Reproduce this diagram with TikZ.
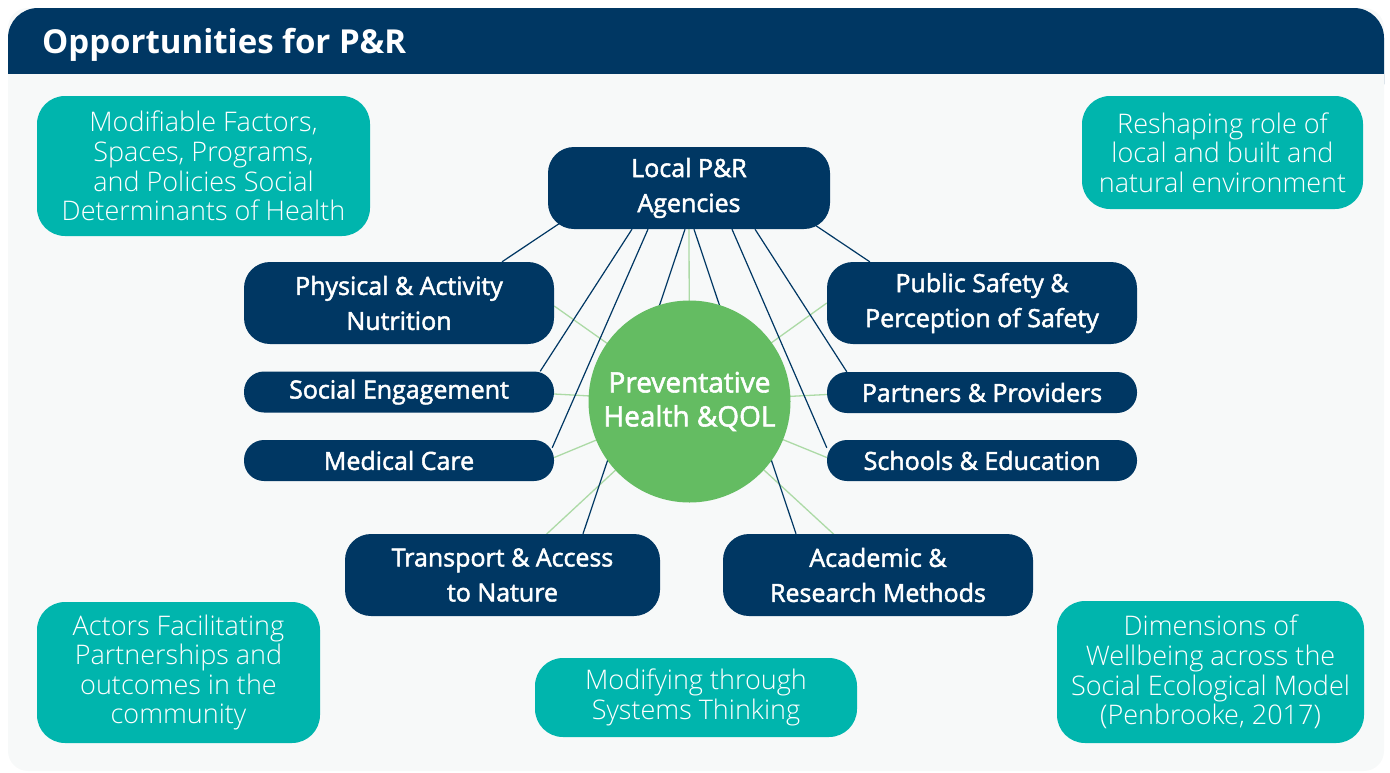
\documentclass[tikz,border=0pt]{standalone}
\usepackage{fontspec}
\setmainfont{Open Sans}
\newfontfamily\lightfont{Open Sans Light}
\newfontfamily\semifont{Open Sans}[RawFeature={embolden=2}]
\usetikzlibrary{calc}
\definecolor{navy}{RGB}{0,55,99}
\definecolor{tealbox}{RGB}{0,181,173}
\definecolor{leaf}{RGB}{100,188,98}
\definecolor{paleleaf}{RGB}{172,218,166}
\definecolor{panelgray}{RGB}{247,249,249}
\pgfdeclarelayer{panel}
\pgfdeclarelayer{links}
\pgfsetlayers{panel,links,main}
\begin{document}
\begin{tikzpicture}[x=1pt,y=-1pt,
  factor/.style={fill=navy, text=white, align=center, inner sep=0pt,
    font=\semifont\fontsize{25}{35}\selectfont},
  tall/.style={factor, rounded corners=26pt, minimum height=82pt},
  slim/.style={factor, rounded corners=20pt, minimum height=41pt},
  theme/.style={fill=tealbox, text=white, align=center, inner sep=0pt,
    rounded corners=28pt, font=\lightfont\fontsize{27}{29.6}\selectfont},
  tie/.style={navy, line width=1.2pt},
  ray/.style={paleleaf, line width=1.3pt}]

\useasboundingbox (0,0) rectangle (1390,772);

% panel and header band
\begin{pgfonlayer}{panel}
  \fill[panelgray, rounded corners=20pt] (8,8) rectangle (1384,771);
  \fill[navy, rounded corners=30pt] (8,8) rectangle (1384,114);
  \fill[panelgray] (8,74) rectangle (1384,120);
\end{pgfonlayer}
\node[anchor=west, text=white, inner sep=0pt, font=\bfseries\fontsize{33}{38}\selectfont] (title) at (42,44.5) {Opportunities for P\&R};

% central hub and factor boxes
\node[circle, fill=leaf, minimum size=202pt, inner sep=0pt, text=white, align=center,
  font=\semifont\fontsize{28}{34}\selectfont] (hub) at (689.5,401.5) {Preventative\\Health \&QOL};

\node[tall, minimum width=282pt] (local) at (689,188) {Local P\&R\\Agencies};
\node[tall, minimum width=310pt] (phys) at (399,303) {Physical \& Activity\\Nutrition};
\node[slim, minimum width=310pt] (social) at (399,392) {Social Engagement};
\node[slim, minimum width=310pt] (medical) at (399,460.5) {Medical Care};
\node[tall, minimum width=310pt] (safety) at (982,303) {Public Safety \&\\Perception of Safety};
\node[slim, minimum width=310pt] (partners) at (982,392.5) {Partners \& Providers};
\node[slim, minimum width=310pt] (schools) at (982,460.5) {Schools \& Education};
\node[tall, minimum width=315pt] (transport) at (502.5,575) {Transport \& Access\\to Nature};
\node[tall, minimum width=310pt] (academic) at (878,575) {Academic \&\\Research Methods};

% themes
\node[theme, minimum width=333pt, minimum height=140pt] (modifiable) at (203.5,166)
  {Modifiable Factors,\\Spaces, Programs,\\and Policies Social\\Determinants of Health};
\node[theme, minimum width=281pt, minimum height=113pt] (reshaping) at (1222.5,152.5)
  {Reshaping role of\\local and built and\\natural environment};
\node[theme, minimum width=283pt, minimum height=141pt] (actors) at (178.5,672.5)
  {Actors Facilitating\\Partnerships and\\outcomes in the\\community};
\node[theme, minimum width=322pt, minimum height=79pt] (systems) at (696,697.5)
  {Modifying through\\Systems Thinking};
\node[theme, minimum width=307pt, minimum height=142pt] (dimensions) at (1210.5,672)
  {Dimensions of\\Wellbeing across the\\Social Ecological Model\\(Penbrooke, 2017)};

% connectors
\begin{pgfonlayer}{links}
  \draw[ray] (hub.center) -- (local.south);
  \draw[ray] (hub.center) -- ($(phys.east)+(0,3)$);
  \draw[ray] (hub.center) -- ($(social.east)+(0,2)$);
  \draw[ray] (hub.center) -- ($(medical.east)+(0,-3)$);
  \draw[ray] (hub.center) -- (transport.center);
  \draw[ray] (hub.center) -- (safety.west);
  \draw[ray] (hub.center) -- ($(partners.west)+(0,2)$);
  \draw[ray] (hub.center) -- ($(schools.west)+(0,-3)$);
  \draw[ray] (hub.center) -- (academic.center);

  \draw[tie] ($(local.south west)+(12,-6)$) -- ($(phys.north)+(103,0)$);
  \draw[tie] ($(local.south)+(-57,0)$) -- ($(social.north east)+(-14,0)$);
  \draw[tie] ($(local.south)+(-41,0)$) -- ($(medical.north east)+(-2,8)$);
  \draw[tie] ($(local.south)+(-4,0)$) -- ($(transport.north)+(80.5,0)$);
  \draw[tie] ($(local.south)+(5,0)$) -- ($(academic.north)+(-82,0)$);
  \draw[tie] ($(local.south)+(43,0)$) -- ($(schools.north west)+(0,8)$);
  \draw[tie] ($(local.south)+(66,0)$) -- ($(partners.north west)+(20,0)$);
  \draw[tie] ($(local.south east)+(-15,-4)$) -- ($(safety.north west)+(43,0)$);
\end{pgfonlayer}
\end{tikzpicture}
\end{document}
